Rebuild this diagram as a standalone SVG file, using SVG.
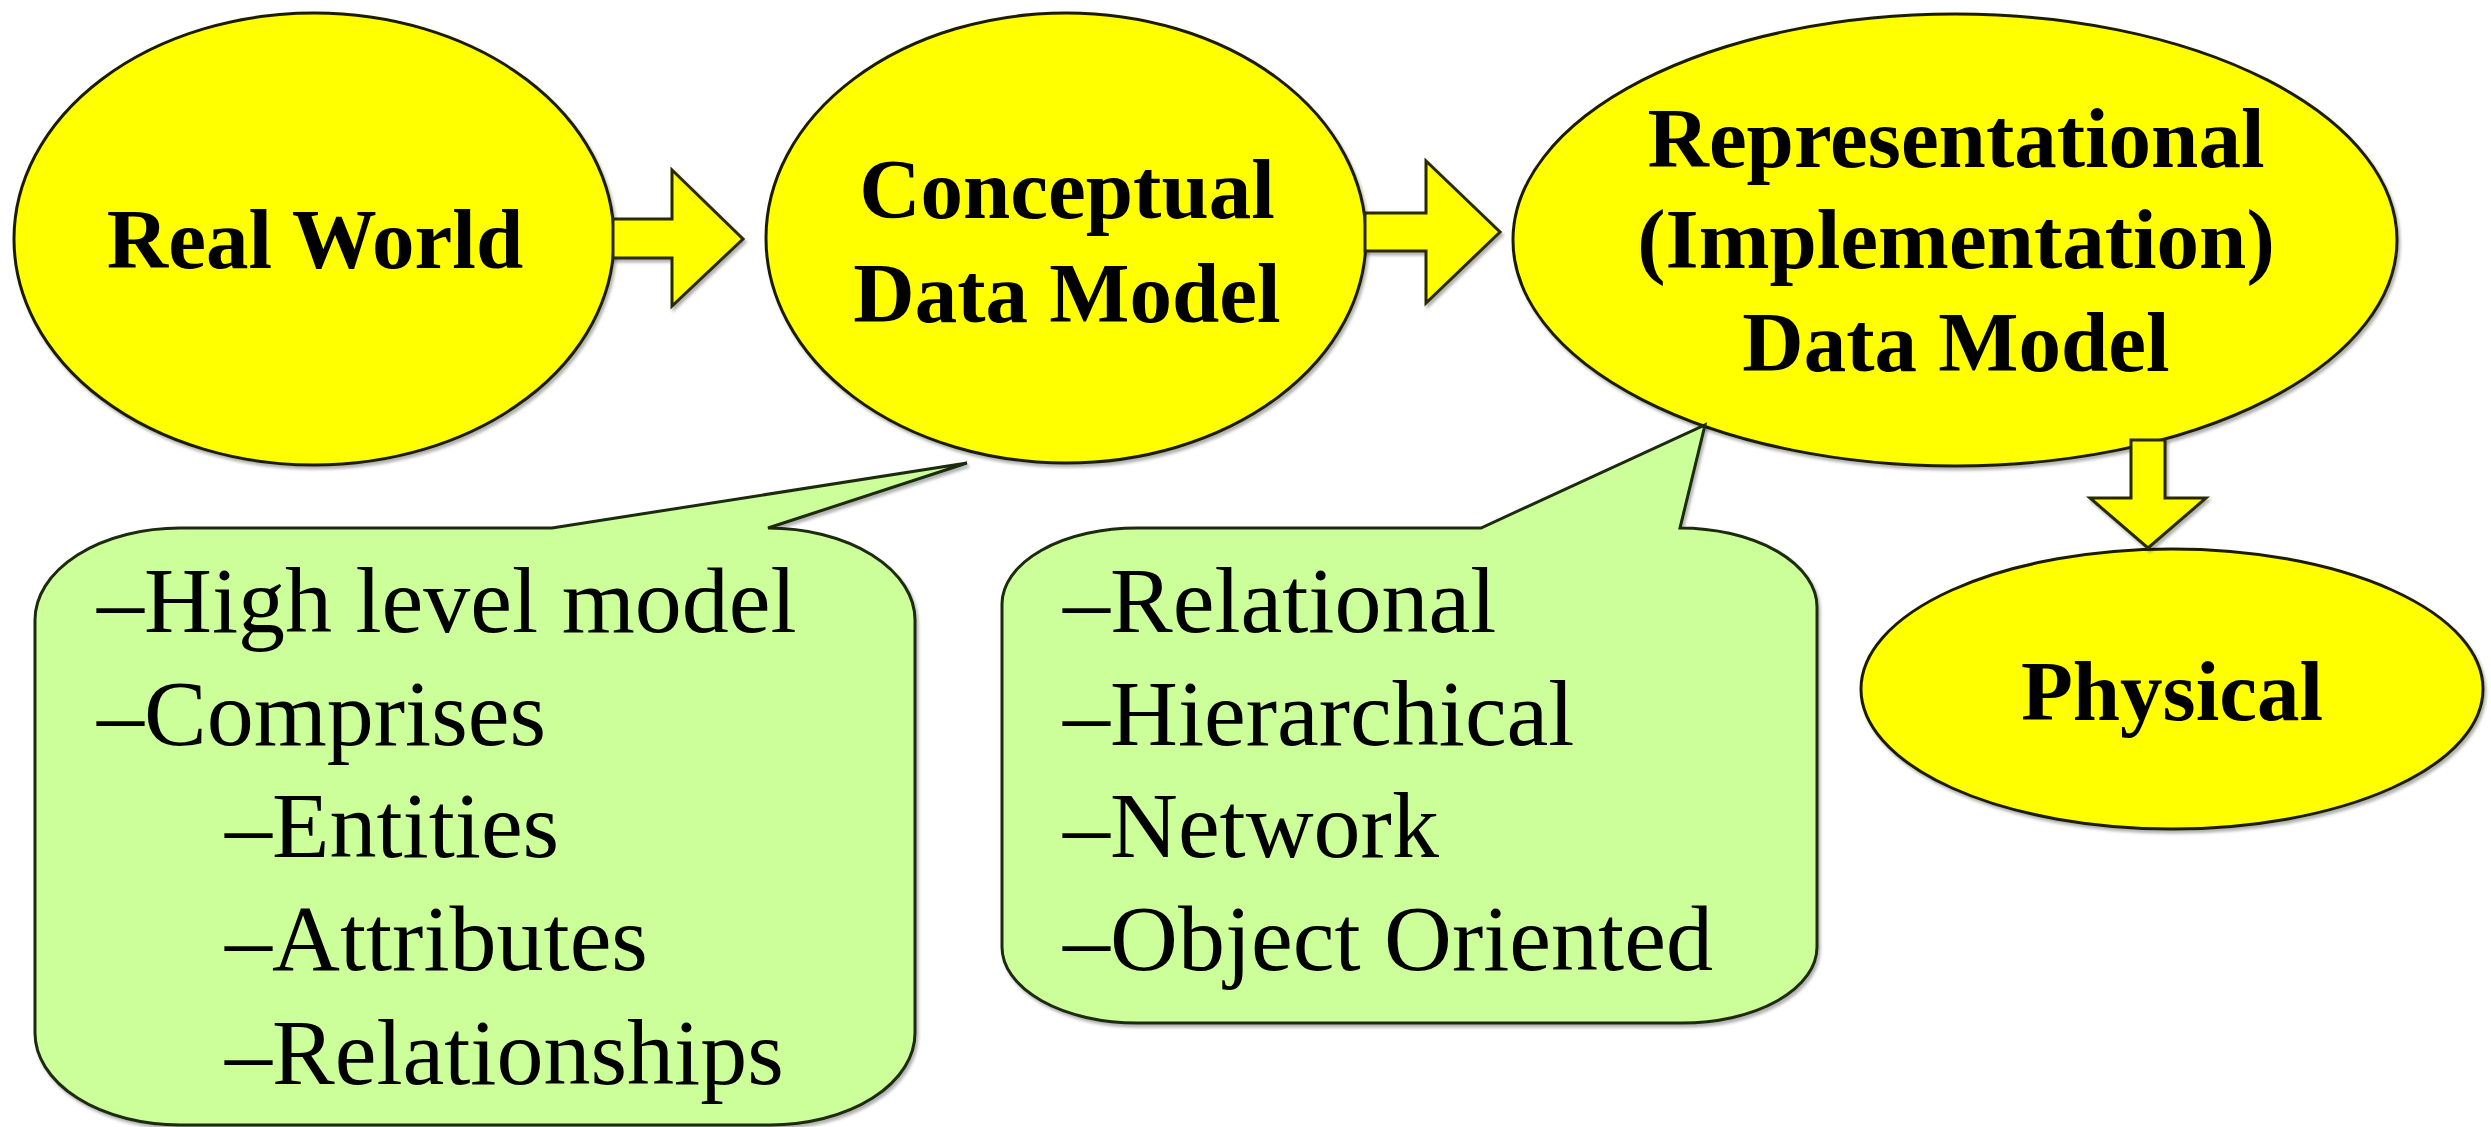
<svg xmlns="http://www.w3.org/2000/svg" width="2491" height="1127" viewBox="0 0 2491 1127">
  <style>
    .oval { fill: #FFFF00; stroke: #1f1f00; stroke-width: 3; }
    .arrow { fill: #FFFF00; stroke: #2a2a00; stroke-width: 3; stroke-linejoin: miter; }
    .bubble { fill: #CCFF99; stroke: #1f2a10; stroke-width: 3; stroke-linejoin: miter; }
    .title { font-family: "Liberation Serif", "Times New Roman", serif; font-weight: bold; font-size: 85px; fill: #000; text-anchor: middle; }
    .item { font-family: "Liberation Serif", "Times New Roman", serif; font-size: 94px; fill: #000; }
  </style>
  <defs>
    <filter id="sh" x="-10%" y="-10%" width="130%" height="130%">
      <feDropShadow dx="2" dy="3" stdDeviation="1.5" flood-color="#000" flood-opacity="0.3"/>
    </filter>
  </defs>

  <g id="real-world">
    <ellipse class="oval" cx="314" cy="239" rx="300" ry="226" filter="url(#sh)"/>
    <text class="title" x="315" y="268">Real World</text>
  </g>

  <g id="conceptual">
    <ellipse class="oval" cx="1066" cy="238" rx="300" ry="225" filter="url(#sh)"/>
    <text class="title" x="1067" y="218">Conceptual</text>
    <text class="title" x="1067" y="322">Data Model</text>
  </g>

  <g id="representational">
    <ellipse class="oval" cx="1955" cy="240" rx="442" ry="226" filter="url(#sh)"/>
    <text class="title" x="1956" y="167">Representational</text>
    <text class="title" x="1956" y="268">(Implementation)</text>
    <text class="title" x="1956" y="371">Data Model</text>
  </g>

  <g id="physical">
    <ellipse class="oval" cx="2172" cy="689" rx="311" ry="140" filter="url(#sh)"/>
    <text class="title" x="2172" y="720">Physical</text>
  </g>

  <g id="connectors">
    <path class="arrow" filter="url(#sh)" d="M 613,219 L 672,219 L 672,170 L 743,239 L 672,306 L 672,258 L 613,258 Z"/>
    <path class="arrow" filter="url(#sh)" d="M 1365,213 L 1426,213 L 1426,161 L 1500,232 L 1426,303 L 1426,251 L 1365,251 Z"/>
    <path class="arrow" filter="url(#sh)" d="M 2131,440 L 2165,440 L 2165,498 L 2206,498 L 2148,548 L 2090,498 L 2131,498 Z"/>
  </g>

  <g id="conceptual-callout">
    <path class="bubble" filter="url(#sh)" d="M 180,528 L 552,528 L 967,463 L 768,528 A 147 92 0 0 1 915,620 L 915,1033 A 145 92 0 0 1 770,1125 L 180,1125 A 145 92 0 0 1 35,1033 L 35,620 A 145 92 0 0 1 180,528 Z"/>
    <text class="item" x="97" y="632">–High level model</text>
    <text class="item" x="97" y="745">–Comprises</text>
    <text class="item" x="225" y="857">–Entities</text>
    <text class="item" x="225" y="970">–Attributes</text>
    <text class="item" x="225" y="1084">–Relationships</text>
  </g>

  <g id="representational-callout">
    <path class="bubble" filter="url(#sh)" d="M 1137,528 L 1481,528 L 1705,425 L 1680,528 A 137 79 0 0 1 1817,607 L 1817,947 A 135 76 0 0 1 1682,1023 L 1137,1023 A 135 76 0 0 1 1002,947 L 1002,604 A 135 76 0 0 1 1137,528 Z"/>
    <text class="item" x="1063" y="632">–Relational</text>
    <text class="item" x="1063" y="745">–Hierarchical</text>
    <text class="item" x="1063" y="857">–Network</text>
    <text class="item" x="1063" y="970">–Object Oriented</text>
  </g>
</svg>
